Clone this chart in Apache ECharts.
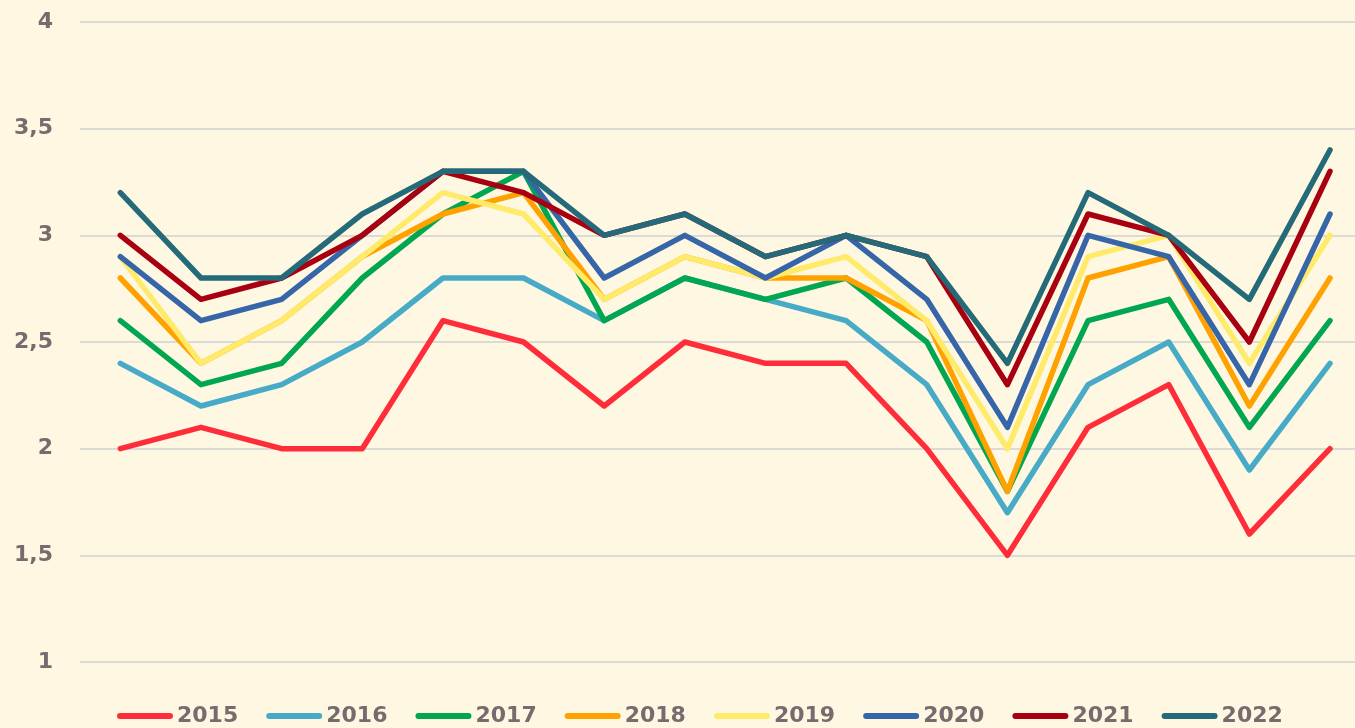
<!DOCTYPE html>
<html>
<head>
<meta charset="utf-8">
<script src="https://cdn.jsdelivr.net/npm/echarts@6/dist/echarts.min.js"></script>
<style>
html,body{margin:0;padding:0;background:#FEF8E3;}
#chart{width:1355px;height:728px;}
</style>
</head>
<body>
<div id="chart"></div>
<script>
// 16 points along the x axis (the original shows no x labels)
var categories = [0, 1, 2, 3, 4, 5, 6, 7, 8, 9, 10, 11, 12, 13, 14, 15];
var years = ['2015','2016','2017','2018','2019','2020','2021','2022'];

var y2015 = [2.0, 2.1, 2.0, 2.0, 2.6, 2.5, 2.2, 2.5, 2.4, 2.4, 2.0, 1.5, 2.1, 2.3, 1.6, 2.0];
var y2016 = [2.4, 2.2, 2.3, 2.5, 2.8, 2.8, 2.6, 2.8, 2.7, 2.6, 2.3, 1.7, 2.3, 2.5, 1.9, 2.4];
var y2017 = [2.6, 2.3, 2.4, 2.8, 3.1, 3.3, 2.6, 2.8, 2.7, 2.8, 2.5, 1.8, 2.6, 2.7, 2.1, 2.6];
var y2018 = [2.8, 2.4, 2.6, 2.9, 3.1, 3.2, 2.7, 2.9, 2.8, 2.8, 2.6, 1.8, 2.8, 2.9, 2.2, 2.8];
var y2019 = [2.9, 2.4, 2.6, 2.9, 3.2, 3.1, 2.7, 2.9, 2.8, 2.9, 2.6, 2.0, 2.9, 3.0, 2.4, 3.0];
var y2020 = [2.9, 2.6, 2.7, 3.0, 3.3, 3.3, 2.8, 3.0, 2.8, 3.0, 2.7, 2.1, 3.0, 2.9, 2.3, 3.1];
var y2021 = [3.0, 2.7, 2.8, 3.0, 3.3, 3.2, 3.0, 3.1, 2.9, 3.0, 2.9, 2.3, 3.1, 3.0, 2.5, 3.3];
var y2022 = [3.2, 2.8, 2.8, 3.1, 3.3, 3.3, 3.0, 3.1, 2.9, 3.0, 2.9, 2.4, 3.2, 3.0, 2.7, 3.4];

var seriesData = [y2015, y2016, y2017, y2018, y2019, y2020, y2021, y2022];
var colors = ['#FF2D3A', '#47ABC8', '#00A650', '#FFA200', '#FFEA6A', '#3766A8', '#A80011', '#246A78'];

var chart = echarts.init(document.getElementById('chart'));

var series = years.map(function (name, i) {
    return {
        name: name,
        type: 'line',
        data: categories.map(function (c, k) { return [c, seriesData[i][k]]; }),
        symbol: 'none',
        lineStyle: {
            width: 5.5,
            color: colors[i],
            cap: 'round',
            join: 'round'
        },
        itemStyle: { color: colors[i] },
        silent: true
    };
});

var option = {
    backgroundColor: '#FEF8E3',
    animation: false,
    color: colors,
    grid: {
        left: 80,
        right: 0,
        top: 22,
        bottom: 66
    },
    legend: {
        data: years,
        left: 112,
        top: 700,
        itemWidth: 56,
        itemHeight: 7,
        itemGap: 28,
        icon: 'path://M3,0 L53,0 A3,3 0 0 1 53,6 L3,6 A3,3 0 0 1 3,0 Z',
        lineStyle: { width: 6, cap: 'round' },
        textStyle: {
            color: '#776B6E',
            fontFamily: 'DejaVu Sans',
            fontWeight: 'bold',
            fontSize: 22,
            padding: [0, 0, 0, -1]
        }
    },
    xAxis: {
        type: 'value',
        min: -0.5,
        max: 15.31,
        axisLine: { show: false },
        axisTick: { show: false },
        axisLabel: { show: false },
        splitLine: { show: false }
    },
    yAxis: {
        type: 'value',
        min: 1,
        max: 4,
        interval: 0.5,
        axisLine: { show: false },
        axisTick: { show: false },
        axisLabel: {
            color: '#776B6E',
            fontFamily: 'DejaVu Sans',
            fontWeight: 'bold',
            fontSize: 22,
            margin: 27,
            formatter: function (v) {
                return String(v).replace('.', ',');
            }
        },
        splitLine: {
            lineStyle: { color: '#DCDAD6', width: 2 }
        }
    },
    series: series
};

chart.setOption(option);
window.addEventListener('resize', function () { chart.resize(); });
</script>
</body>
</html>
